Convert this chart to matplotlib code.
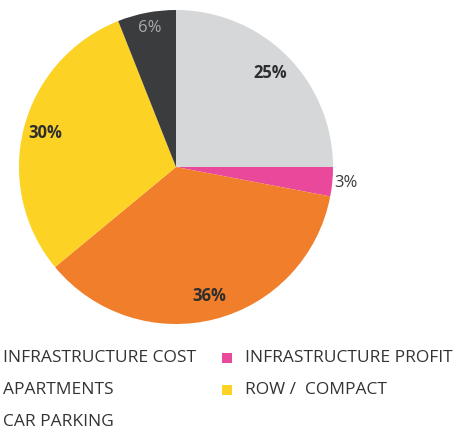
import numpy as np
import matplotlib.pyplot as plt
from matplotlib.patches import Rectangle

# slices, clockwise from 12 o'clock
labels = ["INFRASTRUCTURE COST", "INFRASTRUCTURE PROFIT", "APARTMENTS", "ROW /  COMPACT", "CAR PARKING"]
values = [25, 3, 36, 30, 6]
colors = ["#d5d7d9", "#e9489b", "#f07e2b", "#fcd225", "#3b3c3e"]
pct_colors = ["#2e2e2e", "#3a3a3a", "#2e2e2e", "#2e2e2e", "#a9abae"]
pct_weights = ["bold", "normal", "bold", "bold", "normal"]
pct_dist = [0.85, 1.09, 0.85, 0.86, 0.9]

# legend: order and whether a swatch is shown
legend_order = [0, 2, 4, 1, 3]
legend_swatch = [False, False, False, True, True]

plt.rcParams['font.family'] = ['Open Sans', 'DejaVu Sans']

fig = plt.figure(figsize=(4.56, 4.32), dpi=100)
ax = fig.add_axes([19 / 456, 108 / 432, 314 / 456, 314 / 432])

wedges, _ = ax.pie(values, colors=colors, startangle=90, counterclock=False,
                   radius=1, wedgeprops=dict(linewidth=0))
ax.set_xlim(-1, 1)
ax.set_ylim(-1, 1)
ax.set_aspect('equal')
ax.axis('off')

for w, v, c, fw, d in zip(wedges, values, pct_colors, pct_weights, pct_dist):
    mid = np.deg2rad((w.theta1 + w.theta2) / 2)
    ax.text(d * np.cos(mid), d * np.sin(mid), f"{v}%", ha='center', va='center',
            fontsize=12, color=c, fontweight=fw)

# legend drawn as text rows
col_x = [3, 222]
row_y = [358, 390, 422]
for k, idx in enumerate(legend_order):
    col = 0 if k < 3 else 1
    row = k if k < 3 else k - 3
    x = col_x[col]
    y = row_y[row]
    if legend_swatch[k]:
        fig.add_artist(Rectangle((x / 456, 1 - (y + 5) / 432), 10 / 456, 10 / 432,
                                 transform=fig.transFigure, color=colors[idx], lw=0))
        x += 23
    fig.text(x / 456, 1 - y / 432, labels[idx], ha='left', va='center',
             fontsize=12.5, color="#333333")

fig.savefig("out.png", dpi=100)
